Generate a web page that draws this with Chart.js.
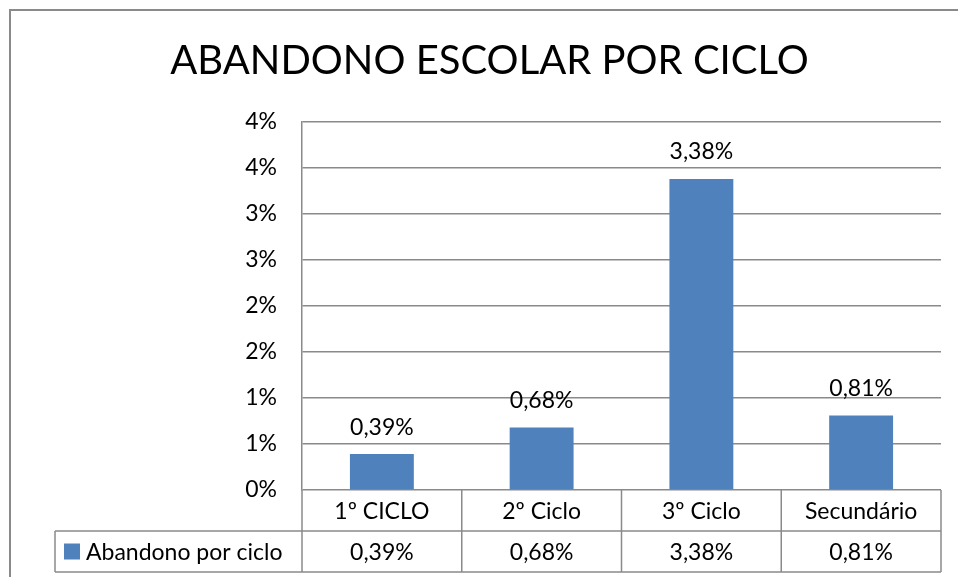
<!DOCTYPE html>
<html>
<head>
<meta charset="utf-8">
<script src="https://cdn.jsdelivr.net/npm/chart.js@4"></script>
<style>
  html, body { margin: 0; padding: 0; background: #fff; }
  #wrap { width: 958px; height: 577px; }
</style>
</head>
<body>
<div id="wrap"><canvas id="chart" width="958" height="577"></canvas></div>
<script>
// dados do gráfico
const categorias = ['1º CICLO', '2º Ciclo', '3º Ciclo', 'Secundário'];
const valores = [0.39, 0.68, 3.38, 0.81];
const rotulosValores = ['0,39%', '0,68%', '3,38%', '0,81%'];
const nomeSerie = 'Abandono por ciclo';
const tituloGrafico = 'ABANDONO ESCOLAR POR CICLO';

const corBarra = '#4F81BD';
const corLinha = '#8a8a8a';
const fonteTexto = { family: 'Lato', size: 23 };

// moldura exterior
const molduraPlugin = {
    id: 'moldura',
    beforeDraw(chart) {
        const ctx = chart.ctx;
        ctx.save();
        ctx.strokeStyle = corLinha;
        ctx.lineWidth = 2;
        ctx.beginPath();
        ctx.moveTo(10, chart.height + 2);
        ctx.lineTo(10, 10);
        ctx.lineTo(chart.width + 2, 10);
        ctx.stroke();
        ctx.restore();
    }
};

// rótulos por cima das barras
const rotulosPlugin = {
    id: 'rotulos',
    afterDatasetsDraw(chart) {
        const ctx = chart.ctx;
        const meta = chart.getDatasetMeta(0);
        ctx.save();
        ctx.fillStyle = '#000';
        ctx.font = fonteTexto.size + 'px ' + fonteTexto.family;
        ctx.textAlign = 'center';
        ctx.textBaseline = 'middle';
        meta.data.forEach((bar, i) => {
            ctx.fillText(rotulosValores[i], bar.x, bar.y - 27);
        });
        ctx.restore();
    }
};

// tabela de dados por baixo do gráfico
const tabelaPlugin = {
    id: 'tabela',
    afterDraw(chart) {
        const ctx = chart.ctx;
        const area = chart.chartArea;
        const xs = chart.scales.x;
        const n = categorias.length;
        const larg = (area.right - area.left) / n;
        const y0 = area.bottom;
        const y1 = y0 + 41;
        const y2 = y1 + 41;
        const xLegenda = 55;

        ctx.save();
        ctx.strokeStyle = corLinha;
        ctx.lineWidth = 1.5;
        ctx.beginPath();
        ctx.moveTo(xLegenda, y1); ctx.lineTo(area.right, y1);
        ctx.moveTo(xLegenda, y2); ctx.lineTo(area.right, y2);
        ctx.moveTo(xLegenda, y1); ctx.lineTo(xLegenda, y2);
        for (let i = 0; i <= n; i++) {
            const x = i < n ? xs.getPixelForValue(i) - larg / 2 : area.right;
            ctx.moveTo(x, y0); ctx.lineTo(x, y2);
        }
        ctx.stroke();

        ctx.fillStyle = '#000';
        ctx.font = fonteTexto.size + 'px ' + fonteTexto.family;
        ctx.textAlign = 'center';
        ctx.textBaseline = 'middle';
        const ym = (y1 + y2) / 2;
        rotulosValores.forEach((t, i) => {
            ctx.fillText(t, xs.getPixelForValue(i), ym + 1);
        });

        // legenda
        ctx.fillStyle = corBarra;
        ctx.fillRect(64, ym - 8, 16, 16);
        ctx.fillStyle = '#000';
        ctx.textAlign = 'left';
        ctx.fillText(nomeSerie, 86, ym + 1);
        ctx.restore();
    }
};

const ctx = document.getElementById('chart').getContext('2d');
new Chart(ctx, {
    type: 'bar',
    data: {
        labels: categorias,
        datasets: [{
            label: nomeSerie,
            data: valores,
            backgroundColor: corBarra,
            barPercentage: 0.4,
            categoryPercentage: 1
        }]
    },
    options: {
        responsive: false,
        animation: false,
        layout: { padding: { top: 0, left: 38, right: 17, bottom: 5 } },
        plugins: {
            legend: { display: false },
            tooltip: { enabled: false },
            title: {
                display: true,
                text: tituloGrafico,
                color: '#000',
                font: { family: 'Lato', size: 40, weight: 'normal' },
                padding: { top: 37, bottom: 37 }
            }
        },
        scales: {
            x: {
                grid: { display: false, drawTicks: false },
                border: { display: false },
                ticks: { color: '#000', font: fonteTexto, padding: 8, maxRotation: 0 },
                afterFit(scale) { scale.height = 82; }
            },
            y: {
                min: 0,
                max: 4,
                grid: { color: corLinha, lineWidth: 1.5, drawTicks: false },
                border: { color: corLinha, width: 1.5 },
                ticks: {
                    stepSize: 0.5,
                    color: '#000',
                    font: fonteTexto,
                    padding: 25,
                    callback: (v) => Math.round(v) + '%'
                },
                afterFit(scale) { scale.width = 264; }
            }
        }
    },
    plugins: [molduraPlugin, rotulosPlugin, tabelaPlugin]
});
</script>
</body>
</html>
